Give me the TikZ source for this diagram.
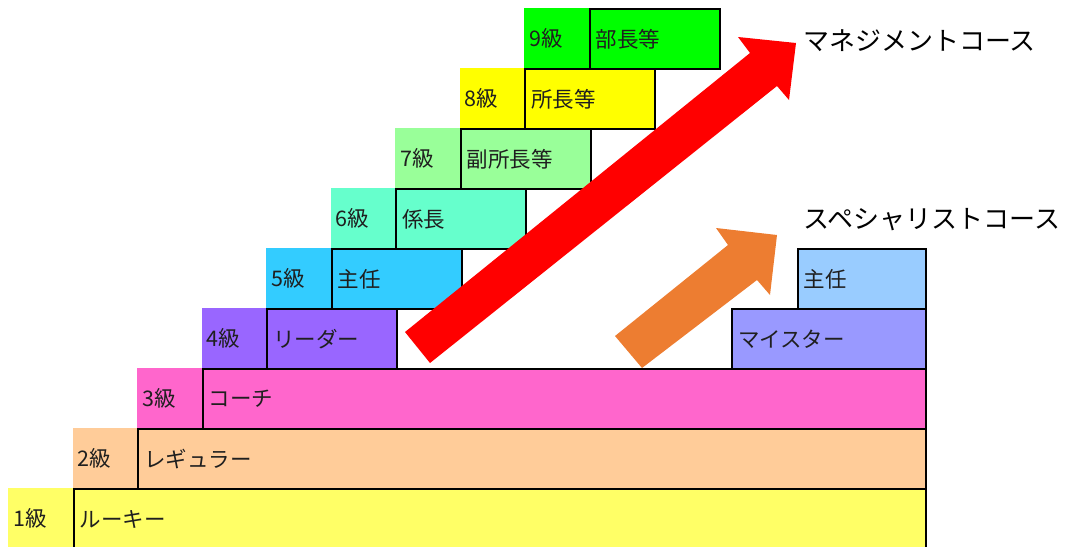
\documentclass[tikz,border=0pt]{standalone}
\usepackage{fontspec}
\setmainfont{Noto Sans CJK JP}
\definecolor{c1}{HTML}{FFFF66}
\definecolor{c2}{HTML}{FFCC99}
\definecolor{c3}{HTML}{FF66CC}
\definecolor{c4}{HTML}{9966FF}
\definecolor{c5}{HTML}{33CCFF}
\definecolor{c6}{HTML}{66FFCC}
\definecolor{c7}{HTML}{99FF99}
\definecolor{c8}{HTML}{FFFF00}
\definecolor{c9}{HTML}{00FF00}
\definecolor{cmeister}{HTML}{9999FF}
\definecolor{cshunin}{HTML}{99CCFF}
\definecolor{arrowred}{HTML}{FF0000}
\definecolor{arroworange}{HTML}{ED7D31}
\begin{document}
\begin{tikzpicture}[x=1pt,y=-1pt,
  cell/.style={anchor=north west, minimum height=60pt, inner xsep=5pt, inner ysep=0pt,
    align=left, font=\fontsize{21.5}{25}\selectfont, text=black!88},
  grade/.style={cell, draw=none, text width=54.5pt, minimum width=64.5pt},
  job/.style={cell, draw=black, line width=2pt},
  title/.style={anchor=west, inner sep=0pt, font=\fontsize{26}{30}\selectfont, text=black}]
\useasboundingbox (0,0) rectangle (1070,546);
% grade cells
\node[grade, fill=c1] (g1) at (8,488) {1級};
\node[grade, fill=c2] (g2) at (72.5,428) {2級};
\node[grade, fill=c3] (g3) at (137,368) {3級};
\node[grade, fill=c4] (g4) at (201.5,308) {4級};
\node[grade, fill=c5] (g5) at (266,248) {5級};
\node[grade, fill=c6] (g6) at (330.5,188) {6級};
\node[grade, fill=c7] (g7) at (395,128) {7級};
\node[grade, fill=c8] (g8) at (459.5,68) {8級};
\node[grade, fill=c9] (g9) at (524,8) {9級};
% job cells
\node[job, fill=c1, minimum width=852.5pt, text width=840pt] (j1) at (72.5,488) {ルーキー};
\node[job, fill=c2, minimum width=788pt, text width=776pt] (j2) at (137,428) {レギュラー};
\node[job, fill=c3, minimum width=723.5pt, text width=711pt] (j3) at (201.5,368) {コーチ};
\node[job, fill=c4, minimum width=130pt, text width=118pt] (j4) at (266,308) {リーダー};
\node[job, fill=c5, minimum width=130pt, text width=118pt] (j5) at (330.5,248) {主任};
\node[job, fill=c6, minimum width=130pt, text width=118pt] (j6) at (395,188) {係長};
\node[job, fill=c7, minimum width=130pt, text width=118pt] (j7) at (459.5,128) {副所長等};
\node[job, fill=c8, minimum width=130pt, text width=118pt] (j8) at (524,68) {所長等};
\node[job, fill=c9, minimum width=130pt, text width=118pt] (j9) at (588.5,8) {部長等};
% specialist cells
\node[job, fill=cmeister, minimum width=194pt, text width=182pt] (m1) at (731,308) {マイスター};
\node[job, fill=cshunin, minimum width=128.5pt, text width=116pt] (m2) at (796.5,248) {主任};
% arrows
\fill[arrowred] (405,332) -- (750,53) -- (738,37) -- (796,43) -- (789,100) -- (777,86) -- (430,363) -- cycle;
\fill[arroworange] (615,336) -- (728,245) -- (716,228) -- (777,235) -- (770,295) -- (757,280) -- (642,368) -- cycle;
% titles
\node[title] (tman) at (803,41) {マネジメントコース};
\node[title] (tspec) at (803,220) {スペシャリストコース};
\end{tikzpicture}
\end{document}
